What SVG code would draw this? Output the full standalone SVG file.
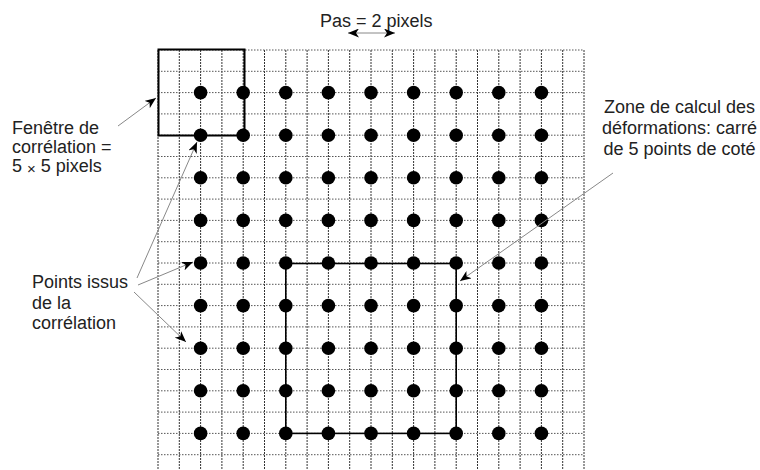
<svg xmlns="http://www.w3.org/2000/svg" width="760" height="470" viewBox="0 0 760 470">
<style>
  .bg { fill: #ffffff; }
  .gv { fill: none; stroke: #333; stroke-width: 1; stroke-dasharray: 2 1; }
  .gh { fill: none; stroke: #555; stroke-width: 1; stroke-dasharray: 1.5 1.5; }
  .box { fill: none; stroke: #000; stroke-width: 2; }
  .zone { fill: none; stroke: #000; stroke-width: 1.6; }
  .dot { fill: #000; }
  .lbl { font-family: "Liberation Sans", Arial, sans-serif; font-size: 18px; fill: #222; }
  .arr { fill: none; stroke: #888; stroke-width: 1; marker-end: url(#ah); }
  .arr2 { fill: none; stroke: #888; stroke-width: 1; marker-end: url(#ah); marker-start: url(#ah); }
</style>
<defs>
  <marker id="ah" markerUnits="userSpaceOnUse" markerWidth="12" markerHeight="9" refX="11" refY="4.5" orient="auto-start-reverse">
    <path d="M0,0 L11,4.5 L0,9 L3,4.5 z" fill="#000"/>
  </marker>
  <circle id="d" r="6.8"/>
</defs>
<rect class="bg" x="0" y="0" width="760" height="470"/>

<g id="grid">
  <path class="gv" d="M158 50V470M179.3 50V470M200.6 50V470M221.9 50V470M243.2 50V470M264.5 50V470M285.8 50V470M307.1 50V470M328.4 50V470M349.7 50V470M371 50V470M392.3 50V470M413.6 50V470M434.9 50V470M456.2 50V470M477.5 50V470M498.8 50V470M520.1 50V470M541.4 50V470M562.7 50V470M584 50V470"/>
  <path class="gh" d="M158 50H584M158 71.3H584M158 92.6H584M158 113.9H584M158 135.2H584M158 156.5H584M158 177.8H584M158 199.1H584M158 220.4H584M158 241.7H584M158 263H584M158 284.3H584M158 305.6H584M158 326.9H584M158 348.2H584M158 369.5H584M158 390.8H584M158 412.1H584M158 433.4H584M158 454.7H584"/>
</g>

<g id="window">
  <rect class="box" x="158.5" y="49.5" width="86" height="86"/>
</g>

<g id="zone">
  <rect class="zone" x="285.8" y="263.5" width="170.4" height="169.9"/>
</g>

<g id="points" class="dot">
  <use href="#d" x="200.6" y="92.6"/><use href="#d" x="243.2" y="92.6"/><use href="#d" x="285.8" y="92.6"/><use href="#d" x="328.4" y="92.6"/><use href="#d" x="371" y="92.6"/><use href="#d" x="413.6" y="92.6"/><use href="#d" x="456.2" y="92.6"/><use href="#d" x="498.8" y="92.6"/><use href="#d" x="541.4" y="92.6"/>
  <use href="#d" x="200.6" y="135.2"/><use href="#d" x="243.2" y="135.2"/><use href="#d" x="285.8" y="135.2"/><use href="#d" x="328.4" y="135.2"/><use href="#d" x="371" y="135.2"/><use href="#d" x="413.6" y="135.2"/><use href="#d" x="456.2" y="135.2"/><use href="#d" x="498.8" y="135.2"/><use href="#d" x="541.4" y="135.2"/>
  <use href="#d" x="200.6" y="177.8"/><use href="#d" x="243.2" y="177.8"/><use href="#d" x="285.8" y="177.8"/><use href="#d" x="328.4" y="177.8"/><use href="#d" x="371" y="177.8"/><use href="#d" x="413.6" y="177.8"/><use href="#d" x="456.2" y="177.8"/><use href="#d" x="498.8" y="177.8"/><use href="#d" x="541.4" y="177.8"/>
  <use href="#d" x="200.6" y="220.4"/><use href="#d" x="243.2" y="220.4"/><use href="#d" x="285.8" y="220.4"/><use href="#d" x="328.4" y="220.4"/><use href="#d" x="371" y="220.4"/><use href="#d" x="413.6" y="220.4"/><use href="#d" x="456.2" y="220.4"/><use href="#d" x="498.8" y="220.4"/><use href="#d" x="541.4" y="220.4"/>
  <use href="#d" x="200.6" y="263"/><use href="#d" x="243.2" y="263"/><use href="#d" x="285.8" y="263"/><use href="#d" x="328.4" y="263"/><use href="#d" x="371" y="263"/><use href="#d" x="413.6" y="263"/><use href="#d" x="456.2" y="263"/><use href="#d" x="498.8" y="263"/><use href="#d" x="541.4" y="263"/>
  <use href="#d" x="200.6" y="305.6"/><use href="#d" x="243.2" y="305.6"/><use href="#d" x="285.8" y="305.6"/><use href="#d" x="328.4" y="305.6"/><use href="#d" x="371" y="305.6"/><use href="#d" x="413.6" y="305.6"/><use href="#d" x="456.2" y="305.6"/><use href="#d" x="498.8" y="305.6"/><use href="#d" x="541.4" y="305.6"/>
  <use href="#d" x="200.6" y="348.2"/><use href="#d" x="243.2" y="348.2"/><use href="#d" x="285.8" y="348.2"/><use href="#d" x="328.4" y="348.2"/><use href="#d" x="371" y="348.2"/><use href="#d" x="413.6" y="348.2"/><use href="#d" x="456.2" y="348.2"/><use href="#d" x="498.8" y="348.2"/><use href="#d" x="541.4" y="348.2"/>
  <use href="#d" x="200.6" y="390.8"/><use href="#d" x="243.2" y="390.8"/><use href="#d" x="285.8" y="390.8"/><use href="#d" x="328.4" y="390.8"/><use href="#d" x="371" y="390.8"/><use href="#d" x="413.6" y="390.8"/><use href="#d" x="456.2" y="390.8"/><use href="#d" x="498.8" y="390.8"/><use href="#d" x="541.4" y="390.8"/>
  <use href="#d" x="200.6" y="433.4"/><use href="#d" x="243.2" y="433.4"/><use href="#d" x="285.8" y="433.4"/><use href="#d" x="328.4" y="433.4"/><use href="#d" x="371" y="433.4"/><use href="#d" x="413.6" y="433.4"/><use href="#d" x="456.2" y="433.4"/><use href="#d" x="498.8" y="433.4"/><use href="#d" x="541.4" y="433.4"/>
</g>

<g id="label-pas">
  <text class="lbl" x="320" y="27">Pas = 2 pixels</text>
</g>
<g id="label-fenetre">
  <text class="lbl" x="12" y="134">Fenêtre de</text>
  <text class="lbl" x="12" y="153">corrélation =</text>
  <text class="lbl" x="12" y="172">5 <tspan font-size="15" dy="2">×</tspan><tspan dy="-2"> 5 pixels</tspan></text>
</g>
<g id="label-points">
  <text class="lbl" x="32" y="288">Points issus</text>
  <text class="lbl" x="32" y="309">de la</text>
  <text class="lbl" x="32" y="329">corrélation</text>
</g>
<g id="label-zone">
  <text class="lbl" x="679.5" y="113" text-anchor="middle">Zone de calcul des</text>
  <text class="lbl" x="679.5" y="134" text-anchor="middle">déformations: carré</text>
  <text class="lbl" x="679.5" y="155" text-anchor="middle">de 5 points de coté</text>
</g>

<g id="connectors">
  <line class="arr2" x1="348" y1="33" x2="395" y2="33"/>
  <line class="arr" x1="118" y1="126" x2="156" y2="98"/>
  <line class="arr" x1="137" y1="278" x2="197" y2="142"/>
  <line class="arr" x1="138" y1="285" x2="193" y2="262"/>
  <line class="arr" x1="134" y1="292" x2="186" y2="342"/>
  <line class="arr" x1="613" y1="173" x2="460" y2="281"/>
</g>
</svg>
